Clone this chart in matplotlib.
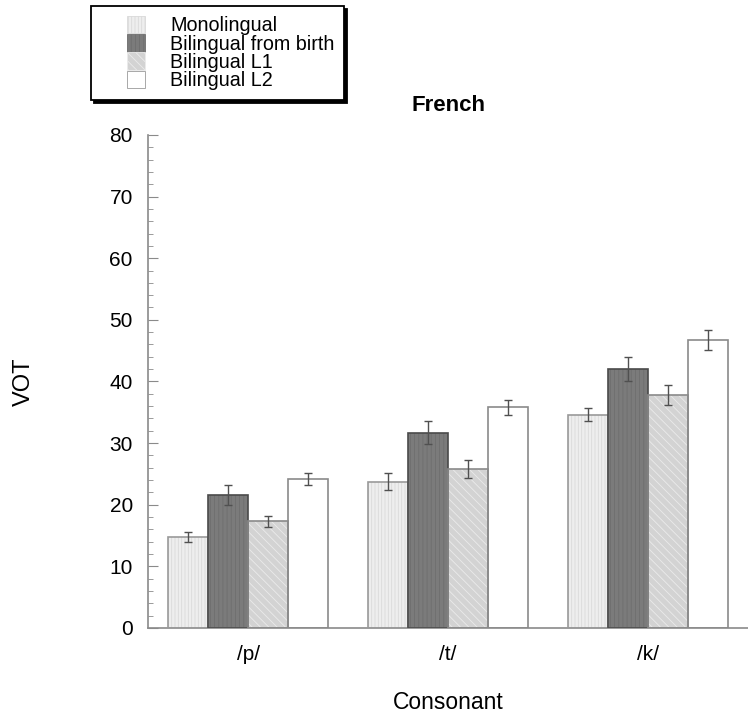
import matplotlib
matplotlib.use("Agg")
import matplotlib.pyplot as plt
import numpy as np
from matplotlib.patches import Patch, Rectangle
from matplotlib.legend_handler import HandlerPatch

# VOT data (ms)
consonants = ["/p/", "/t/", "/k/"]
groups = ["Monolingual", "Bilingual from birth", "Bilingual L1", "Bilingual L2"]
mono = [14.8, 23.7, 34.6]
birth = [21.6, 31.7, 42.0]
l1 = [17.3, 25.8, 37.8]
l2 = [24.2, 35.8, 46.7]
mono_err = [0.8, 1.4, 1.1]
birth_err = [1.6, 1.9, 1.9]
l1_err = [0.9, 1.5, 1.6]
l2_err = [1.0, 1.2, 1.6]

plt.rcParams['font.family'] = ['Liberation Sans', 'DejaVu Sans']
plt.rcParams['hatch.linewidth'] = 0.6

fig = plt.figure(figsize=(7.48, 7.2), dpi=100)
ax = fig.add_axes([0.198, 0.128, 0.802, 0.6845])

# face colour, hatch pattern, hatch colour, outline colour
styles = [
    ("#eeeeee", "|||||", "#d9d9d9", "#9a9a9a"),
    ("#7b7b7b", "||||", "#6e6e6e", "#4a4a4a"),
    ("#d3d3d3", "\\\\\\\\", "#ebebeb", "#8a8a8a"),
    ("#ffffff", None, "#ffffff", "#8a8a8a"),
]
values = [mono, birth, l1, l2]
errors = [mono_err, birth_err, l1_err, l2_err]

x = np.arange(len(consonants))
w = 0.2
for i in range(4):
    fc, hatch, hc, ec = styles[i]
    pos = x + (i - 1.5) * w
    ax.bar(pos, values[i], w, color=fc, hatch=hatch, edgecolor=hc, linewidth=0, zorder=2)
    ax.bar(pos, values[i], w, fill=False, edgecolor=ec, linewidth=1.2, zorder=3)
    ax.errorbar(pos, values[i], yerr=errors[i], fmt='none', ecolor='#505050',
                elinewidth=1, capsize=3, capthick=1, zorder=4)

ax.set_xlim(-0.5, 2.5)
ax.set_ylim(0, 80)
ax.set_xticks(x)
ax.set_xticklabels(consonants)
ax.set_yticks(np.arange(0, 81, 10))
ax.set_yticks(np.arange(0, 81, 2), minor=True)
ax.tick_params(axis='x', length=0, labelsize=15, pad=12)
ax.tick_params(axis='y', which='major', direction='in', length=7, color='#8a8a8a',
               labelsize=15, pad=11)
ax.tick_params(axis='y', which='minor', direction='in', length=3.5, color='#8a8a8a')

for s in ['top', 'right']:
    ax.spines[s].set_visible(False)
for s in ['left', 'bottom']:
    ax.spines[s].set_color('#8a8a8a')
    ax.spines[s].set_linewidth(1.2)

ax.set_title("French", fontsize=16, fontweight='bold', pad=17)
ax.set_xlabel("Consonant", fontsize=16.5, labelpad=20)
ax.set_ylabel("VOT", fontsize=17, labelpad=54)


# legend swatch sits at the right end of a wide handle box
def swatch(legend, orig_handle, xdescent, ydescent, width, height, fontsize):
    return Rectangle((-xdescent + width * 0.6, -ydescent), width * 0.4, height)


handles = []
for i in range(4):
    fc, hatch, hc, ec = styles[i]
    handles.append(Patch(facecolor=fc, hatch=hatch, edgecolor=hc if hatch else '#9a9a9a',
                         linewidth=0.6, label=groups[i]))
leg = fig.legend(handles=handles, loc='upper left', bbox_to_anchor=(0.122, 0.992),
                 fontsize=14.2, frameon=True, fancybox=False, edgecolor='black',
                 handlelength=2.2, handleheight=1.0, labelspacing=-0.06,
                 handletextpad=1.3, borderpad=0.5, borderaxespad=0,
                 handler_map={Patch: HandlerPatch(patch_func=swatch)},
                 shadow={'color': 'black', 'alpha': 1})
leg.get_frame().set_linewidth(1.3)

plt.savefig("out.png", dpi=100)
